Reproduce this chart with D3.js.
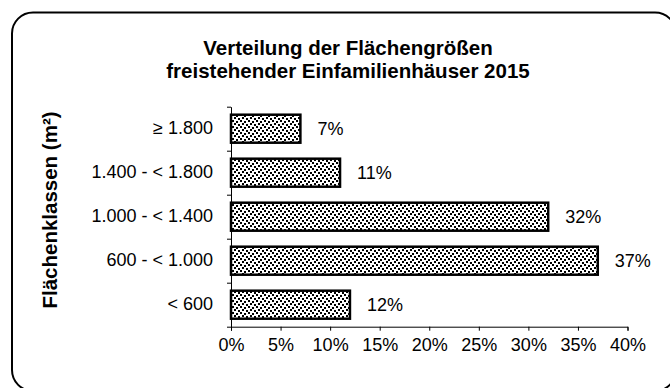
<!DOCTYPE html>
<html>
<head>
<meta charset="utf-8">
<script src="https://cdn.jsdelivr.net/npm/d3@7"></script>
<style>
  html, body { margin: 0; padding: 0; background: #fff; }
  svg { display: block; font-family: "Liberation Sans", Arial, sans-serif; }
</style>
</head>
<body>
<svg id="chart" width="670" height="388"></svg>
<script>
// Size classes (top to bottom) and their shares in percent
const categories = ["≥ 1.800", "1.400 - < 1.800", "1.000 - < 1.400", "600 - < 1.000", "< 600"];
const shares = [7, 11, 32, 37, 12];
const xTicks = [0, 5, 10, 15, 20, 25, 30, 35, 40];
const titleLines = ["Verteilung der Flächengrößen", "freistehender Einfamilienhäuser 2015"];
const yTitle = "Flächenklassen (m²)";

const svg = d3.select("#chart");

// Rounded outer frame
svg.append("rect")
  .attr("x", 12).attr("y", 12.5)
  .attr("width", 664).attr("height", 378.5)
  .attr("rx", 21).attr("ry", 21)
  .attr("fill", "#fff").attr("stroke", "#000").attr("stroke-width", 2);

// Dotted fill for the bars: an 8x6 tile of staggered square dots
const dotCells = [[0, 0], [4, 1], [2, 3], [6, 4]];
const defs = svg.append("defs");
const pat = defs.append("pattern")
  .attr("id", "dots").attr("patternUnits", "userSpaceOnUse")
  .attr("width", 8).attr("height", 6);
pat.append("rect").attr("width", 8).attr("height", 6).attr("fill", "#fff");
pat.selectAll("rect.dot").data(dotCells).join("rect")
  .attr("class", "dot")
  .attr("x", d => d[0]).attr("y", d => d[1])
  .attr("width", 2).attr("height", 2).attr("fill", "#000");

const plotLeft = 231, plotRight = 627.5, plotTop = 106.7, plotBottom = 326.7;

const x = d3.scaleLinear().domain([0, 40]).range([plotLeft, plotRight]);
const y = d3.scaleBand().domain(categories).range([plotTop, plotBottom])
  .paddingInner(16 / 44).paddingOuter(8 / 44);
const yEdges = d3.scaleLinear().domain([0, categories.length]).range([plotTop, plotBottom]);

// Title
svg.append("text")
  .attr("x", 348).attr("y", 55)
  .attr("text-anchor", "middle")
  .style("font-size", "20.5px").style("font-weight", "bold")
  .selectAll("tspan").data(titleLines).join("tspan")
  .attr("x", 348).attr("dy", (d, i) => i === 0 ? 0 : 22.5)
  .text(d => d);

// Y axis title
svg.append("text")
  .attr("transform", "translate(57,210) rotate(-90)")
  .attr("text-anchor", "middle")
  .style("font-size", "20.5px").style("font-weight", "bold")
  .text(yTitle);

// Bars
svg.append("g").selectAll("rect").data(categories).join("rect")
  .attr("x", x(0))
  .attr("y", d => y(d))
  .attr("width", (d, i) => x(shares[i]) - x(0))
  .attr("height", y.bandwidth())
  .attr("fill", "url(#dots)")
  .attr("stroke", "#000").attr("stroke-width", 2.5);

// Value labels
svg.append("g").selectAll("text").data(categories).join("text")
  .attr("x", (d, i) => x(shares[i]) + 17)
  .attr("y", d => y(d) + y.bandwidth() / 2)
  .attr("dy", "0.35em")
  .style("font-size", "18px")
  .text((d, i) => shares[i] + "%");

// X axis
svg.append("g")
  .attr("transform", `translate(0,${plotBottom})`)
  .call(d3.axisBottom(x).tickValues(xTicks).tickFormat(d => d + "%").tickSize(4).tickSizeOuter(4).tickPadding(8));

// Y axis: category labels centred in bands, tick marks on band edges
const yAxis = svg.append("g")
  .attr("transform", `translate(${plotLeft},0)`)
  .call(d3.axisLeft(y).tickSize(0).tickSizeOuter(0).tickPadding(18));
yAxis.select(".domain").remove();

svg.append("g")
  .attr("transform", `translate(${plotLeft},0)`)
  .call(d3.axisLeft(yEdges).ticks(categories.length).tickFormat("").tickSize(4).tickSizeOuter(0));

svg.selectAll(".tick text").style("font-size", "18px").attr("fill", "#000")
  .style("font-family", "'Liberation Sans', Arial, sans-serif");
svg.selectAll(".domain, .tick line").attr("stroke", "#000");
</script>
</body>
</html>
